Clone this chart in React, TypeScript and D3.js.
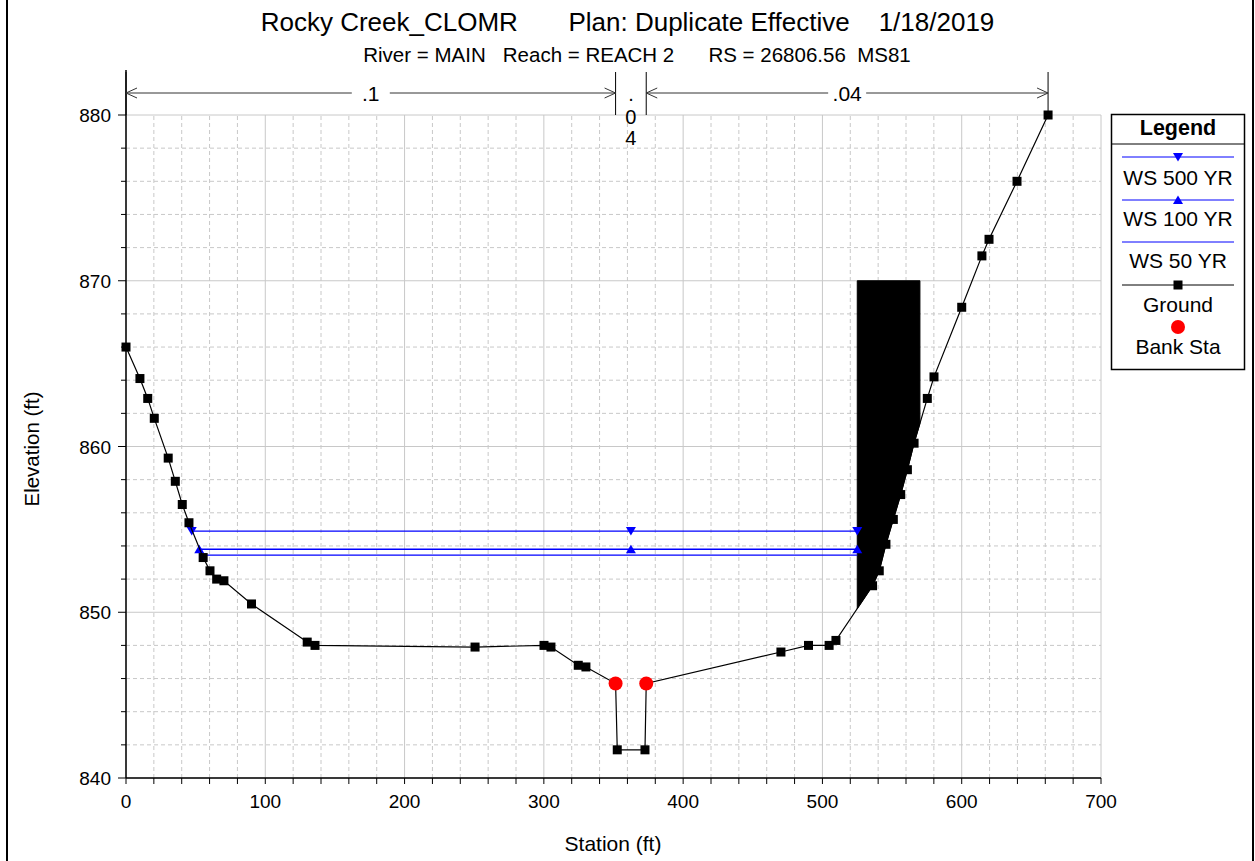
import React from "react";
import * as d3 from "d3";

const groundSta = [0, 10, 15.6, 20.3, 30.3, 35.4, 40.4, 45.2, 55.4, 60.3, 65.1, 70.3, 90.1, 130.1, 135.7, 250.6, 300.1, 305.1, 324.7, 330.2, 351.5, 352.7, 372.6, 373.5, 470.2, 490, 504.8, 509.7, 536, 540.8, 545.6, 550.9, 556.2, 561, 565.8, 575.3, 580.1, 600, 614.5, 619.6, 639.7, 662];
const groundElev = [866.0, 864.1, 862.9, 861.7, 859.3, 857.9, 856.5, 855.4, 853.3, 852.5, 852.0, 851.9, 850.5, 848.2, 848.0, 847.9, 848.0, 847.9, 846.8, 846.7, 845.7, 841.7, 841.7, 845.7, 847.6, 848.0, 848.0, 848.3, 851.6, 852.5, 854.1, 855.6, 857.1, 858.6, 860.2, 862.9, 864.2, 868.4, 871.5, 872.5, 876.0, 880.0];

const bankSta = [351.5, 373.5];
const bankElev = [845.7, 845.7];

// water surfaces
const wsNames = ["WS 500 YR", "WS 100 YR", "WS 50 YR"];
const wsStart = [47.2, 52.6, 55.4];
const wsEnd = [525, 525, 525];
const wsElev = [854.9, 853.8, 853.45];

// blocked obstruction
const obsStart = 525;
const obsEnd = 570;
const obsTop = 870;

// Manning's n regions
const nBreaks = [0, 351.5, 373.5, 662];
const nValues = [".1", ".04", ".04"];

const xTicks = [0, 100, 200, 300, 400, 500, 600, 700];
const yTicks = [840, 850, 860, 870, 880];

const FONT = "'Liberation Sans', Arial, sans-serif";

export default function App() {
  const x = d3.scaleLinear().domain([0, 700]).range([126, 1101]);
  const y = d3.scaleLinear().domain([840, 880]).range([778, 115]);

  const ground = groundSta.map((s, i) => [s, groundElev[i]] as [number, number]);
  const line = d3.line<[number, number]>().x(d => x(d[0])).y(d => y(d[1]));

  const groundAt = (s: number) => {
    for (let i = 0; i < ground.length - 1; i++) {
      const [s0, e0] = ground[i];
      const [s1, e1] = ground[i + 1];
      if (s >= s0 && s <= s1) return e0 + ((s - s0) / (s1 - s0)) * (e1 - e0);
    }
    return ground[ground.length - 1][1];
  };
  const obsPoly: [number, number][] = [
    [obsStart, obsTop],
    [obsEnd, obsTop],
    [obsEnd, groundAt(obsEnd)],
    ...ground.filter(g => g[0] > obsStart && g[0] < obsEnd).reverse(),
    [obsStart, groundAt(obsStart)],
  ];

  const minorX = d3.range(0, 701, 20);
  const minorY = d3.range(840, 881, 2);

  const blue = "#0000ff";
  const tri = (cx: number, cy: number, down: boolean, s = 6) =>
    down
      ? `M${cx - s},${cy - s * 0.8}L${cx + s},${cy - s * 0.8}L${cx},${cy + s * 0.9}Z`
      : `M${cx - s},${cy + s * 0.8}L${cx + s},${cy + s * 0.8}L${cx},${cy - s * 0.9}Z`;

  const center = (bankSta[0] + bankSta[1]) / 2;

  const arrowY = 93;
  const chev = (px: number, dir: number) =>
    `M${px + dir * 11},${arrowY - 5}L${px},${arrowY}L${px + dir * 11},${arrowY + 5}`;

  return (
    <div style={{ position: "fixed", left: 0, top: 0, width: 1255, height: 861, background: "#fff" }}>
      <svg width={1255} height={861} style={{ display: "block", fontFamily: FONT }}>
        <rect x={0} y={0} width={1255} height={861} fill="#fff" />
        <line x1={7} y1={0} x2={7} y2={861} stroke="#000" strokeWidth={2} />
        <line x1={1253} y1={0} x2={1253} y2={861} stroke="#000" strokeWidth={2} />

        {/* titles */}
        <text x={627.5} y={31} fontSize={26} textAnchor="middle" style={{ whiteSpace: "pre" }}>
          {"Rocky Creek_CLOMR       Plan: Duplicate Effective    1/18/2019"}
        </text>
        <text x={637} y={62} fontSize={20.5} textAnchor="middle" style={{ whiteSpace: "pre" }}>
          {"River = MAIN   Reach = REACH 2      RS = 26806.56  MS81"}
        </text>

        {/* grid */}
        {minorX.map(v => (
          <line key={"gx" + v} x1={x(v)} x2={x(v)} y1={y(840)} y2={y(880)}
            stroke="#c8c8c8" strokeWidth={1} strokeDasharray={v % 100 === 0 ? undefined : "4,3"} />
        ))}
        {minorY.map(v => (
          <line key={"gy" + v} x1={x(0)} x2={x(700)} y1={y(v)} y2={y(v)}
            stroke="#c8c8c8" strokeWidth={1} strokeDasharray={v % 10 === 0 ? undefined : "4,3"} />
        ))}

        {/* axes */}
        <line x1={x(0)} x2={x(0)} y1={y(840)} y2={y(880) - 45} stroke="#000" strokeWidth={1.5} />
        <line x1={x(0)} x2={x(700)} y1={y(840)} y2={y(840)} stroke="#000" strokeWidth={1.5} />
        {minorY.map(v => (
          <line key={"ty" + v} x1={x(0) - (v % 10 === 0 ? 8 : 5)} x2={x(0)} y1={y(v)} y2={y(v)} stroke="#000" />
        ))}
        {minorX.map(v => (
          <line key={"tx" + v} x1={x(v)} x2={x(v)} y1={y(840)} y2={y(840) + 6} stroke="#000" />
        ))}
        {yTicks.map(v => (
          <text key={"ly" + v} x={111} y={y(v) + 7} fontSize={19} textAnchor="end">{v}</text>
        ))}
        {xTicks.map(v => (
          <text key={"lx" + v} x={x(v)} y={808} fontSize={19} textAnchor="middle">{v}</text>
        ))}
        <text x={613} y={851} fontSize={21} textAnchor="middle">Station (ft)</text>
        <text transform={`translate(39,449) rotate(-90)`} fontSize={20.5} textAnchor="middle">Elevation (ft)</text>

        {/* Manning's n */}
        {nBreaks.map(v => (
          <line key={"nb" + v} x1={x(v)} x2={x(v)} y1={72} y2={y(880)} stroke="#000" />
        ))}
        {nValues.map((n, i) => {
          const a = x(nBreaks[i]);
          const b = x(nBreaks[i + 1]);
          const cx = (a + b) / 2;
          if (b - a < 60) {
            return (
              <g key={"n" + i} fontSize={20} textAnchor="middle">
                {n.split("").map((ch, j) => (
                  <text key={j} x={cx} y={103 + j * 21 - (j === 0 ? 2 : 0)}>{ch}</text>
                ))}
              </g>
            );
          }
          return (
            <g key={"n" + i}>
              <line x1={a} x2={b} y1={arrowY} y2={arrowY} stroke="#333" />
              <path d={chev(a, 1)} fill="none" stroke="#333" />
              <path d={chev(b, -1)} fill="none" stroke="#333" />
              <rect x={cx - 19} y={arrowY - 11} width={38} height={22} fill="#fff" />
              <text x={cx} y={arrowY + 8} fontSize={21} textAnchor="middle">{n}</text>
            </g>
          );
        })}

        {/* obstruction */}
        <path d={line(obsPoly) + "Z"} fill="#000" stroke="#000" />

        {/* water surfaces */}
        {wsNames.map((nm, i) => (
          <g key={nm}>
            <line x1={x(wsStart[i])} x2={x(wsEnd[i])} y1={y(wsElev[i])} y2={y(wsElev[i])} stroke={blue} strokeWidth={1.3} />
            {i < 2 && [wsStart[i], center, wsEnd[i]].map((s, k) => (
              <path key={k} d={tri(x(s), y(wsElev[i]), i === 0, 5)} fill={blue} />
            ))}
          </g>
        ))}

        {/* ground */}
        <path d={line(ground) || ""} fill="none" stroke="#000" strokeWidth={1.2} />
        {ground.map((g, i) => (
          <rect key={"g" + i} x={x(g[0]) - 4.5} y={y(g[1]) - 4.5} width={9} height={9} fill="#000" />
        ))}
        {bankSta.map((s, i) => (
          <circle key={"b" + i} cx={x(s)} cy={y(bankElev[i])} r={7} fill="#ff0000" />
        ))}

        {/* legend */}
        <g>
          <rect x={1111.5} y={114.5} width={133} height={255} fill="#fff" stroke="#000" strokeWidth={1.5} />
          <line x1={1111.5} x2={1244.5} y1={144} y2={144} stroke="#000" />
          <text x={1178} y={135} fontSize={21.5} fontWeight="bold" textAnchor="middle">Legend</text>
          <line x1={1122} x2={1234} y1={157} y2={157} stroke={blue} />
          <path d={tri(1178, 157, true, 5)} fill={blue} />
          <text x={1178} y={185} fontSize={21} textAnchor="middle">WS 500 YR</text>
          <line x1={1122} x2={1234} y1={200} y2={200} stroke={blue} />
          <path d={tri(1178, 200, false, 5)} fill={blue} />
          <text x={1178} y={226} fontSize={21} textAnchor="middle">WS 100 YR</text>
          <line x1={1122} x2={1234} y1={242} y2={242} stroke={blue} />
          <text x={1178} y={268} fontSize={21} textAnchor="middle">WS 50 YR</text>
          <line x1={1122} x2={1234} y1={285} y2={285} stroke="#000" />
          <rect x={1173.5} y={280.5} width={9} height={9} fill="#000" />
          <text x={1178} y={312} fontSize={21} textAnchor="middle">Ground</text>
          <circle cx={1178} cy={327} r={7} fill="#ff0000" />
          <text x={1178} y={354} fontSize={21} textAnchor="middle">Bank Sta</text>
        </g>
      </svg>
    </div>
  );
}
